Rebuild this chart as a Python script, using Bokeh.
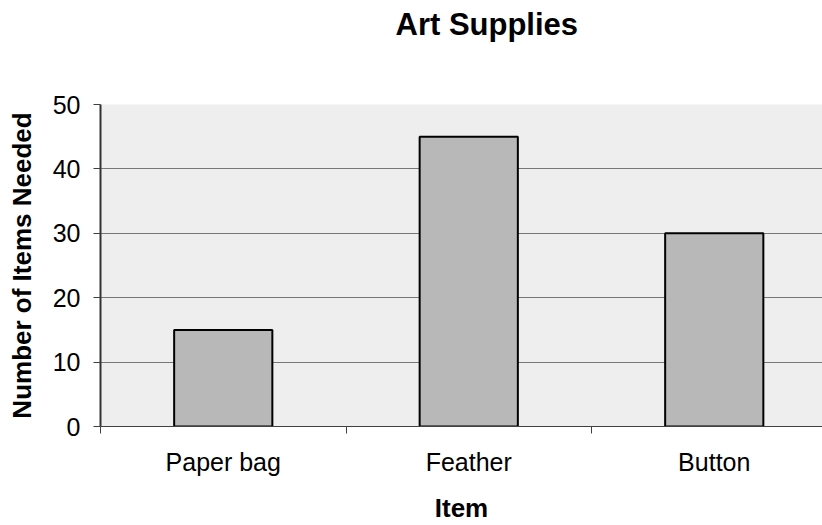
from bokeh.plotting import figure
from bokeh.models import Range1d, FixedTicker, Title
from bokeh.embed import file_html
from bokeh.resources import INLINE

# ---- data ----
items = ["Paper bag", "Feather", "Button"]
counts = [15, 45, 30]
y_ticks = [0, 10, 20, 30, 40, 50]
title_text = "Art Supplies"
x_title = "Item"
y_title = "Number of Items Needed"

FONT = "Liberation Sans"
CAT_PX = 245.5          # pixels per category slot
FRAME_W = 722
centers = [i + 0.5 for i in range(len(items))]
bounds = [float(i) for i in range(len(items))]

p = figure(width=822, height=525, output_backend="svg", toolbar_location=None,
           x_range=Range1d(0, FRAME_W / CAT_PX), y_range=Range1d(0, 50),
           min_border_left=100, min_border_right=0, min_border_top=104, min_border_bottom=99)

p.background_fill_color = "#eeeeee"
p.border_fill_color = "white"
p.outline_line_color = None

p.vbar(x=centers, top=counts, width=0.4, bottom=0,
       fill_color="#b8b8b8", line_color="black", line_width=2)

# x axis
xa = p.xaxis[0]
xa.ticker = FixedTicker(ticks=centers, minor_ticks=bounds)
xa.major_label_overrides = {c: n for c, n in zip(centers, items)}
xa.major_tick_line_color = None
xa.major_tick_out = 0
xa.major_tick_in = 0
xa.minor_tick_out = 7
xa.minor_tick_in = 0
xa.minor_tick_line_color = "#404040"
xa.minor_tick_line_width = 1
xa.axis_line_color = "#404040"
xa.axis_line_width = 1
xa.major_label_standoff = 14
xa.major_label_text_font = FONT
xa.major_label_text_font_size = "25px"
xa.major_label_text_color = "black"
xa.axis_label = x_title
xa.axis_label_text_font = FONT
xa.axis_label_text_font_size = "26px"
xa.axis_label_text_font_style = "bold"
xa.axis_label_text_color = "black"
xa.axis_label_standoff = 14

# y axis
ya = p.yaxis[0]
ya.ticker = FixedTicker(ticks=y_ticks, minor_ticks=[])
ya.major_tick_out = 7
ya.major_tick_in = 0
ya.major_tick_line_color = "#404040"
ya.axis_line_color = "#333333"
ya.axis_line_width = 2
ya.major_label_standoff = 13
ya.major_label_text_font = FONT
ya.major_label_text_font_size = "25px"
ya.major_label_text_color = "black"
ya.axis_label = y_title
ya.axis_label_text_font = FONT
ya.axis_label_text_font_size = "26px"
ya.axis_label_text_font_style = "bold"
ya.axis_label_text_color = "black"
ya.axis_label_standoff = 13

p.xgrid.visible = False
p.ygrid.grid_line_color = "#777777"
p.ygrid.grid_line_width = 1

# spacer between the frame and the title (nearest the frame), then the title
p.add_layout(Title(text=" ", standoff=60, text_font_size="1px"), "above")
p.add_layout(Title(text=title_text, align="left", offset=295, standoff=0,
                   text_font=FONT, text_font_size="31px", text_font_style="bold",
                   text_color="black"), "above")

open("out.html", "w").write(file_html(p, INLINE))
